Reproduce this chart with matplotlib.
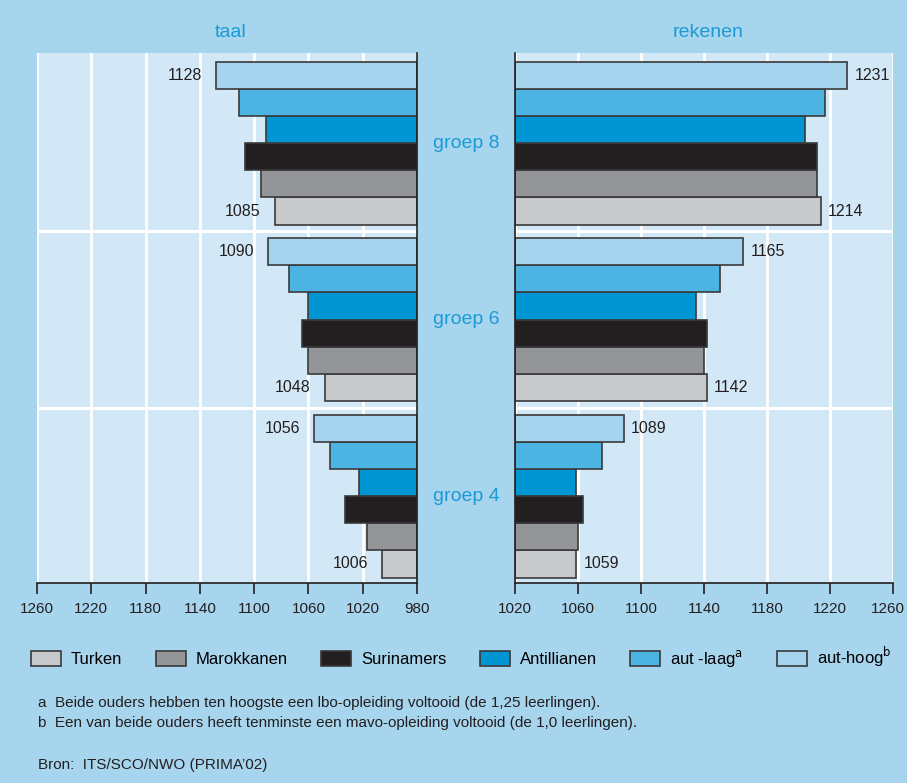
import numpy as np
import matplotlib
matplotlib.use("Agg")
import matplotlib.pyplot as plt
from matplotlib.patches import Patch
from matplotlib.transforms import blended_transform_factory, ScaledTranslation

plt.rcParams['font.family'] = ['Liberation Sans Narrow', 'Liberation Sans', 'DejaVu Sans']

#%% data
groups = ['groep 8', 'groep 6', 'groep 4']
series = ['Turken', 'Marokkanen', 'Surinamers', 'Antillianen', 'aut-laag', 'aut-hoog']
legend_labels = ['Turken', 'Marokkanen', 'Surinamers', 'Antillianen',
                 'aut -laag$^{\\mathrm{a}}$', 'aut-hoog$^{\\mathrm{b}}$']

taal_turken = [1085, 1048, 1006]
taal_marokkanen = [1095, 1060, 1017]
taal_surinamers = [1107, 1065, 1033]
taal_antillianen = [1091, 1060, 1023]
taal_autlaag = [1111, 1074, 1044]
taal_authoog = [1128, 1090, 1056]

rek_turken = [1214, 1142, 1059]
rek_marokkanen = [1212, 1140, 1060]
rek_surinamers = [1212, 1142, 1063]
rek_antillianen = [1204, 1135, 1059]
rek_autlaag = [1217, 1150, 1075]
rek_authoog = [1231, 1165, 1089]

taal_ticks = [1260, 1220, 1180, 1140, 1100, 1060, 1020, 980]
rek_ticks = [1020, 1060, 1100, 1140, 1180, 1220, 1260]

taal = [taal_turken, taal_marokkanen, taal_surinamers, taal_antillianen, taal_autlaag, taal_authoog]
rek = [rek_turken, rek_marokkanen, rek_surinamers, rek_antillianen, rek_autlaag, rek_authoog]

#%% style
bg = '#a7d5ee'
panel = '#d2e8f6'
blue_txt = '#1b9ad6'
dark = '#231f20'
colors = ['#c8c9cb', '#939598', '#231f20', '#0095d3', '#4cb4e2', '#a6d4ee']
edge = '#3a3a3a'

fig = plt.figure(figsize=(9.07, 7.83), dpi=100, facecolor=bg)
ax_l = fig.add_axes([37/907, 1-583/783, 380/907, 530/783])
ax_r = fig.add_axes([515/907, 1-583/783, 378/907, 530/783])

gap = 6.5
# bar position: top bar in each group is aut-hoog (series index 5)
def ypos(s, g):
    return g*gap + (5 - s)

def style_axes(ax, lo, hi, ticks, spine):
    ax.set_facecolor(panel)
    ax.set_xlim(lo, hi)
    ax.set_ylim(18.7, -0.82)
    ax.set_xticks(ticks)
    ax.set_xticklabels([str(t) for t in ticks], fontsize=11, color=dark)
    ax.set_yticks([])
    for t in ticks:
        ax.axvline(t, color='white', lw=2, zorder=1)
    for y in [5.75, 12.25]:
        ax.axhline(y, color='white', lw=2.2, zorder=1)
    for sp in ['top', 'left', 'right']:
        ax.spines[sp].set_visible(False)
    ax.spines[spine].set_visible(True)
    ax.spines[spine].set_color(dark)
    ax.spines[spine].set_linewidth(1.2)
    ax.spines[spine].set_zorder(5)
    ax.spines['bottom'].set_color(dark)
    ax.spines['bottom'].set_linewidth(1.2)
    ax.tick_params(axis='x', direction='out', length=8, width=1.2, color=dark, pad=6)

style_axes(ax_l, 1260, 980, taal_ticks, 'right')
style_axes(ax_r, 1020, 1260, rek_ticks, 'left')

# keep the last right-hand tick label inside the picture
last = ax_r.get_xticklabels()[-1]
last.set_transform(last.get_transform() + ScaledTranslation(-5/100, 0, fig.dpi_scale_trans))

for s in range(6):
    for g in range(3):
        y = ypos(s, g)
        v = taal[s][g]
        ax_l.barh(y, v - 980, left=980, height=1.0, color=colors[s], edgecolor=edge, lw=1.2, zorder=3)
        v = rek[s][g]
        ax_r.barh(y, v - 1020, left=1020, height=1.0, color=colors[s], edgecolor=edge, lw=1.2, zorder=3)

# value labels on aut-hoog and Turken
for s in [5, 0]:
    for g in range(3):
        y = ypos(s, g)
        ax_l.annotate(str(taal[s][g]), (taal[s][g], y), xytext=(-10, 0), textcoords='offset points',
                      ha='right', va='center', fontsize=11.5, color=dark)
        ax_r.annotate(str(rek[s][g]), (rek[s][g], y), xytext=(5, 0), textcoords='offset points',
                      ha='left', va='center', fontsize=11.5, color=dark)

ax_l.text(0.51, 1.038, 'taal', transform=ax_l.transAxes, ha='center', va='center', fontsize=14, color=blue_txt)
ax_r.text(0.51, 1.038, 'rekenen', transform=ax_r.transAxes, ha='center', va='center', fontsize=14, color=blue_txt)

tr = blended_transform_factory(fig.transFigure, ax_r.transData)
for g in range(3):
    ax_r.text(466/907, g*gap + 2.5, groups[g], transform=tr, ha='center', va='center',
              fontsize=14, color=blue_txt)

handles = [Patch(facecolor=colors[s], edgecolor=edge, lw=1.2) for s in range(6)]
fig.legend(handles, legend_labels, loc='center left', bbox_to_anchor=(31/907, 1-657/783),
           ncol=6, frameon=False, fontsize=12, handlelength=1.8, handleheight=1.0,
           handletextpad=0.6, columnspacing=2.0, borderaxespad=0, borderpad=0)

fig.text(38/907, 1-703/783, 'a  Beide ouders hebben ten hoogste een lbo-opleiding voltooid (de 1,25 leerlingen).',
         fontsize=11, color=dark, va='center')
fig.text(38/907, 1-723/783, 'b  Een van beide ouders heeft tenminste een mavo-opleiding voltooid (de 1,0 leerlingen).',
         fontsize=11, color=dark, va='center')
fig.text(38/907, 1-765/783, 'Bron:  ITS/SCO/NWO (PRIMA\u201902)', fontsize=11, color=dark, va='center')

fig.savefig('out.png', dpi=100, facecolor=bg)
